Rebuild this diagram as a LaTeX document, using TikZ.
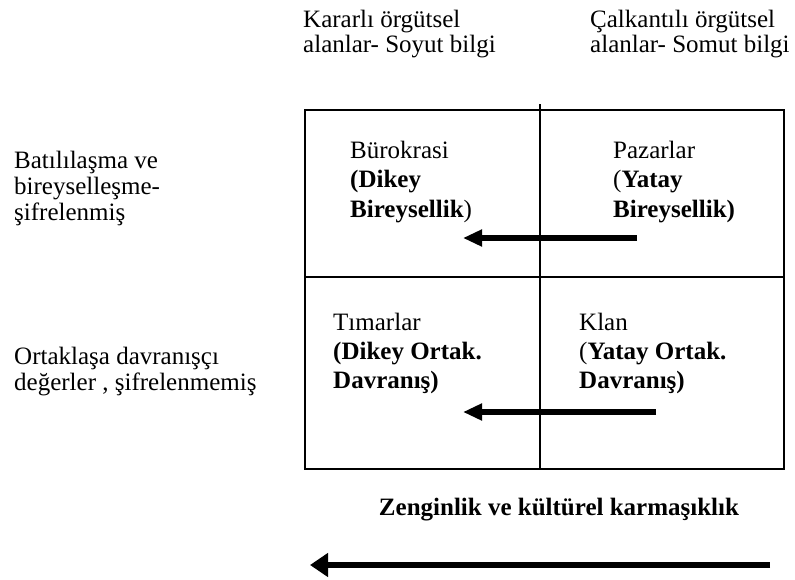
\documentclass[tikz,border=0pt]{standalone}
\usepackage{fontspec}
\setmainfont{Liberation Serif}
\usetikzlibrary{arrows.meta}
\begin{document}
\begin{tikzpicture}[x=1pt,y=-1pt,
  lbl/.style={anchor=base west,inner sep=0pt,font=\fontsize{25}{29}\selectfont},
  grid/.style={line width=1.8pt},
  flow/.style={line width=5.5pt,-{Triangle[length=19pt,width=16pt]}},
  bigflow/.style={line width=6.5pt,-{Triangle[length=18pt,width=23pt]}}]
\useasboundingbox (0,0) rectangle (795,579);

% the two-by-two matrix
\coordinate (tl) at (305,110);
\coordinate (br) at (784,469);
\coordinate (ml) at (305,277);
\coordinate (mr) at (784,277);
\coordinate (vt) at (540,104);
\coordinate (vb) at (540,469);
\draw[grid] (tl) rectangle (br);
\draw[grid] (ml) -- (mr);
\draw[grid] (vt) -- (vb);

% column headings
\node[lbl] (h1a) at (303,27) {Kararlı örgütsel};
\node[lbl] (h1b) at (303,52) {alanlar- Soyut bilgi};
\node[lbl] (h2a) at (590,27) {Çalkantılı örgütsel};
\node[lbl] (h2b) at (590,52) {alanlar- Somut bilgi};

% row headings
\node[lbl] (r1a) at (14,168) {Batılılaşma ve};
\node[lbl] (r1b) at (14,194) {bireyselleşme-};
\node[lbl] (r1c) at (14,220) {şifrelenmiş};
\node[lbl] (r2a) at (14,364) {Ortaklaşa davranışçı};
\node[lbl] (r2b) at (14,390) {değerler , şifrelenmemiş};

% cells
\node[lbl] (q1a) at (350,158) {Bürokrasi};
\node[lbl] (q1b) at (350,187.5) {\textbf{(Dikey}};
\node[lbl] (q1c) at (350,217) {\textbf{Bireysellik})};
\node[lbl] (q2a) at (613,158) {Pazarlar};
\node[lbl] (q2b) at (613,187.5) {(\textbf{Yatay}};
\node[lbl] (q2c) at (613,217) {\textbf{Bireysellik)}};
\node[lbl] (q3a) at (333,330) {Tımarlar};
\node[lbl] (q3b) at (333,359) {\textbf{(Dikey Ortak.}};
\node[lbl] (q3c) at (333,388) {\textbf{Davranış)}};
\node[lbl] (q4a) at (579,330) {Klan};
\node[lbl] (q4b) at (579,359) {(\textbf{Yatay Ortak.}};
\node[lbl] (q4c) at (579,388) {\textbf{Davranış)}};

% arrows inside the matrix
\coordinate (a1s) at (637,238);
\coordinate (a1e) at (463,238);
\coordinate (a2s) at (656,412);
\coordinate (a2e) at (463,412);
\draw[flow] (a1s) -- (a1e);
\draw[flow] (a2s) -- (a2e);

% overall direction
\node[lbl,anchor=base] (axis) at (559,515) {\textbf{Zenginlik ve kültürel karmaşıklık}};
\coordinate (bs) at (770,565);
\coordinate (be) at (310,565);
\draw[bigflow] (bs) -- (be);
\end{tikzpicture}
\end{document}
